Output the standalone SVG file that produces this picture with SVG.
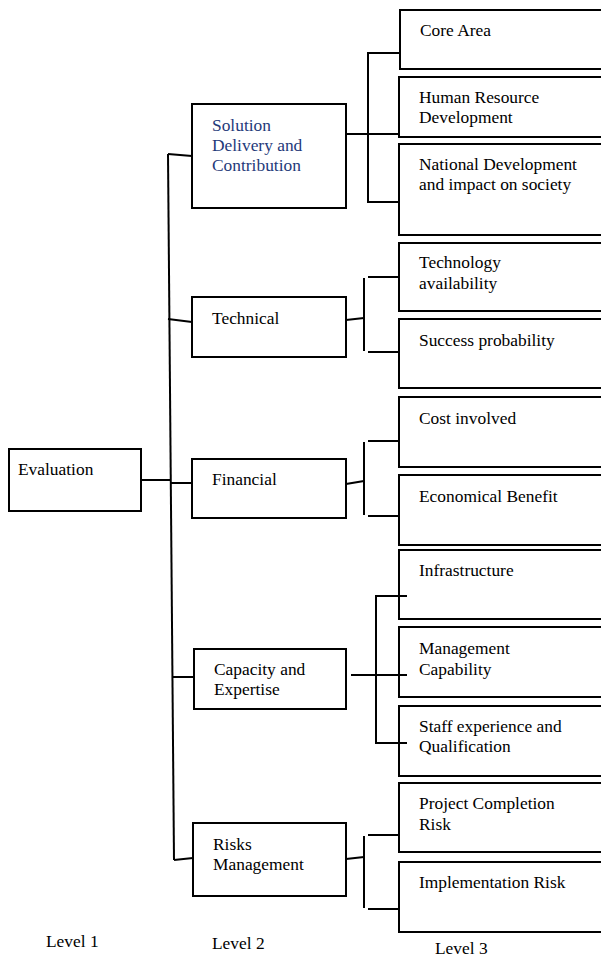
<svg xmlns="http://www.w3.org/2000/svg" width="601" height="958" viewBox="0 0 601 958">
<style>
.box{fill:#fff;stroke:#000;stroke-width:2}
.t{font-family:"Liberation Serif","Times New Roman",serif;font-size:17.4px;fill:#000}
.blue{fill:#1f3a7a}
.c{fill:none;stroke:#000;stroke-width:2}
</style>
<rect width="601" height="958" fill="#fff"/>
<g id="evaluation"><rect class="box" x="9" y="449" width="132" height="62"/><text class="t" x="18" y="475">Evaluation</text></g>
<g id="solution"><rect class="box" x="192" y="104" width="154" height="104"/><text class="t blue" x="212" y="131">Solution</text><text class="t blue" x="212" y="151">Delivery and</text><text class="t blue" x="212" y="171">Contribution</text></g>
<g id="technical"><rect class="box" x="192" y="297" width="154" height="60"/><text class="t" x="212" y="324">Technical</text></g>
<g id="financial"><rect class="box" x="192" y="459" width="154" height="59"/><text class="t" x="212" y="485">Financial</text></g>
<g id="capacity"><rect class="box" x="194" y="649" width="152" height="60"/><text class="t" x="214" y="675">Capacity and</text><text class="t" x="214" y="695">Expertise</text></g>
<g id="risks"><rect class="box" x="193" y="823" width="153" height="73"/><text class="t" x="213" y="850">Risks</text><text class="t" x="213" y="870">Management</text></g>
<g id="core"><rect class="box" x="400" y="10" width="220" height="59"/><text class="t" x="420" y="36">Core Area</text></g>
<g id="hrd"><rect class="box" x="399" y="77" width="220" height="60"/><text class="t" x="419" y="103">Human Resource</text><text class="t" x="419" y="123">Development</text></g>
<g id="national"><rect class="box" x="399" y="144" width="220" height="91"/><text class="t" x="419" y="170">National Development</text><text class="t" x="419" y="190">and impact on society</text></g>
<g id="techavail"><rect class="box" x="399" y="243" width="220" height="68"/><text class="t" x="419" y="268">Technology</text><text class="t" x="419" y="289">availability</text></g>
<g id="success"><rect class="box" x="399" y="319" width="220" height="69"/><text class="t" x="419" y="346">Success probability</text></g>
<g id="cost"><rect class="box" x="399" y="397" width="220" height="70"/><text class="t" x="419" y="424">Cost involved</text></g>
<g id="econ"><rect class="box" x="399" y="475" width="220" height="70"/><text class="t" x="419" y="502">Economical Benefit</text></g>
<g id="infra"><rect class="box" x="399" y="550" width="220" height="69"/><text class="t" x="419" y="576">Infrastructure</text></g>
<g id="mgmt"><rect class="box" x="399" y="627" width="220" height="70"/><text class="t" x="419" y="654">Management</text><text class="t" x="419" y="675">Capability</text></g>
<g id="staff"><rect class="box" x="399" y="706" width="220" height="70"/><text class="t" x="419" y="732">Staff experience and</text><text class="t" x="419" y="752">Qualification</text></g>
<g id="project"><rect class="box" x="399" y="783" width="220" height="69"/><text class="t" x="419" y="809">Project Completion</text><text class="t" x="419" y="830">Risk</text></g>
<g id="impl"><rect class="box" x="399" y="862" width="220" height="70"/><text class="t" x="419" y="888">Implementation Risk</text></g>
<g id="labels"><text class="t" x="46" y="947">Level 1</text><text class="t" x="212" y="949">Level 2</text><text class="t" x="435" y="954">Level 3</text></g>
<g id="connectors">
<line class="c" x1="168" y1="154" x2="174" y2="860"/>
<line class="c" x1="168" y1="154" x2="192" y2="156"/>
<line class="c" x1="168" y1="319" x2="192" y2="322"/>
<line class="c" x1="141" y1="480" x2="170" y2="480"/>
<line class="c" x1="170" y1="483" x2="192" y2="483"/>
<line class="c" x1="173" y1="677" x2="194" y2="677"/>
<line class="c" x1="174" y1="860" x2="193" y2="858"/>
<polyline class="c" points="400,53 368,53 368,202 399,202"/>
<line class="c" x1="346" y1="134" x2="399" y2="134"/>
<line class="c" x1="364" y1="278" x2="364" y2="351"/>
<line class="c" x1="368" y1="277" x2="399" y2="277"/>
<line class="c" x1="368" y1="352" x2="399" y2="352"/>
<line class="c" x1="346" y1="320" x2="364" y2="318"/>
<line class="c" x1="364" y1="442" x2="364" y2="515"/>
<line class="c" x1="368" y1="441" x2="399" y2="441"/>
<line class="c" x1="368" y1="516" x2="399" y2="516"/>
<line class="c" x1="346" y1="484" x2="364" y2="481"/>
<polyline class="c" points="407,596 376,596 376,743 407,743"/>
<line class="c" x1="351" y1="675" x2="407" y2="675"/>
<line class="c" x1="364" y1="836" x2="364" y2="908"/>
<line class="c" x1="368" y1="835" x2="399" y2="835"/>
<line class="c" x1="368" y1="909" x2="399" y2="909"/>
<line class="c" x1="346" y1="859" x2="364" y2="857"/>
</g>
</svg>
